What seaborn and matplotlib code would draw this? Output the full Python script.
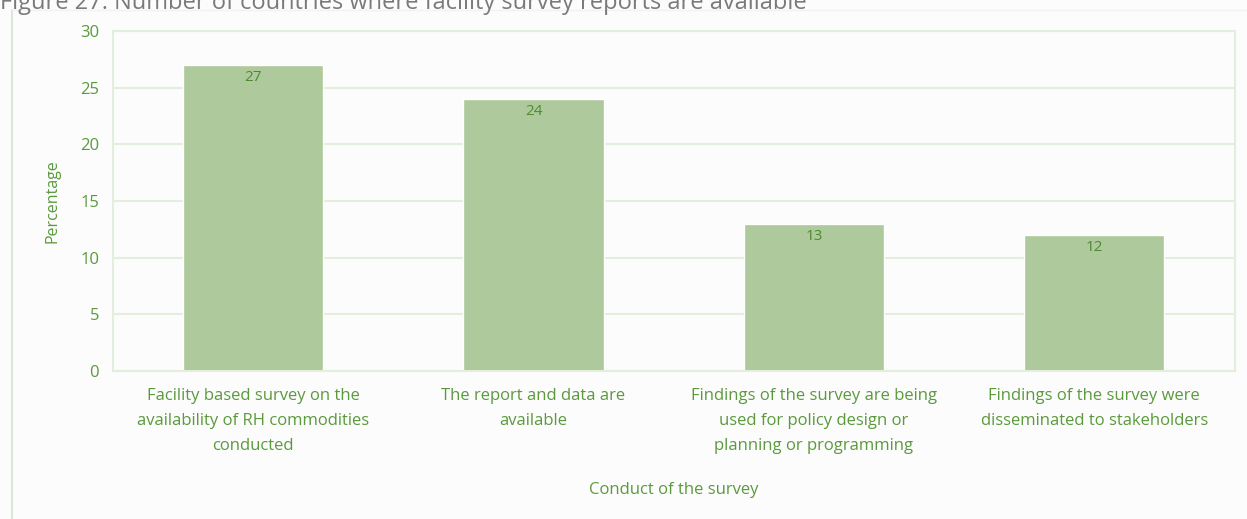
"""Bar chart: countries where facility survey reports are available."""
import matplotlib
matplotlib.use("Agg")
import matplotlib.pyplot as plt
from matplotlib.lines import Line2D
import pandas as pd
import seaborn as sns

categories = [
    "Facility based survey on the\navailability of RH commodities\nconducted",
    "The report and data are\navailable",
    "Findings of the survey are being\nused for policy design or\nplanning or programming",
    "Findings of the survey were\ndisseminated to stakeholders",
]
values = [27, 24, 13, 12]
y_ticks = [0, 5, 10, 15, 20, 25, 30]

TEXT_GREEN = "#5a9a3c"
BAR_GREEN = "#aec99b"
GRID_GREEN = "#e3eedb"

sns.set_theme(style="white")
plt.rcParams["font.family"] = ["Open Sans", "DejaVu Sans"]

df = pd.DataFrame({"category": categories, "value": values})

fig = plt.figure(figsize=(12.47, 5.19), dpi=100, facecolor="#fcfcfc")
ax = fig.add_axes([0.0906, 0.285, 0.8994, 0.655])
ax.set_facecolor("#fcfcfc")

sns.barplot(data=df, x="category", y="value", color=BAR_GREEN, width=0.5,
            saturation=1, ax=ax, zorder=2)

# value labels just inside the top of each bar
for i, v in enumerate(values):
    ax.text(i, v - 0.45, f"{v}", ha="center", va="top", fontsize=11,
            color="#4f8a33", zorder=3)

ax.set_ylim(0, 30)
ax.set_yticks(y_ticks)
ax.yaxis.grid(True, color=GRID_GREEN, linewidth=1.5, zorder=0)
ax.set_axisbelow(True)
for side in ["top", "right", "left", "bottom"]:
    ax.spines[side].set_visible(True)
    ax.spines[side].set_color(GRID_GREEN)
    ax.spines[side].set_linewidth(1.5)

ax.tick_params(axis="both", length=0, colors=TEXT_GREEN, labelsize=12)
ax.tick_params(axis="y", pad=10)
ax.tick_params(axis="x", pad=12)
for lbl in ax.get_xticklabels():
    lbl.set_linespacing(1.75)

ax.set_ylabel("Percentage", color=TEXT_GREEN, fontsize=11.5, labelpad=14)
ax.set_xlabel("Conduct of the survey", color=TEXT_GREEN, fontsize=12, labelpad=20)

# faint outer chart frame (left and top edges)
fig.add_artist(Line2D([12 / 1247, 12 / 1247], [0, 1 - 10 / 519],
                      transform=fig.transFigure, color="#dde9d3", lw=1.5))
fig.add_artist(Line2D([12 / 1247, 1], [1 - 10 / 519, 1 - 10 / 519],
                      transform=fig.transFigure, color="#f0f4ec", lw=1))

# caption, cut off by the top edge as in the source image
fig.text(0.0, 1 - 9 / 519, "Figure 27: Number of countries where facility survey reports are available",
         ha="left", va="baseline", fontsize=17, color="#7a7a7a")

fig.savefig("out.png", dpi=100, facecolor=fig.get_facecolor())
